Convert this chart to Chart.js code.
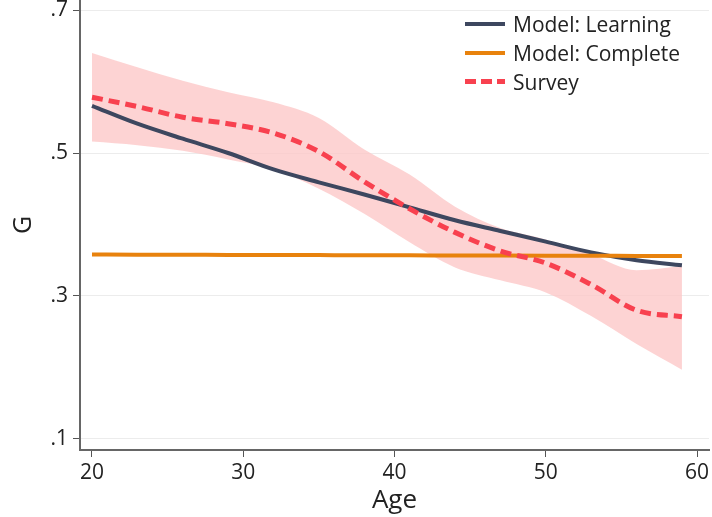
<!DOCTYPE html>
<html>
<head>
<meta charset="utf-8">
<script src="https://cdn.jsdelivr.net/npm/chart.js@4/dist/chart.umd.min.js"></script>
<style>
  html, body { margin: 0; padding: 0; background: #fff; }
  #wrap { position: relative; width: 712px; height: 517px; }
  #legend {
    position: absolute; left: 465px; top: 9px;
    font-family: 'Open Sans', sans-serif; font-size: 21px; color: #222;
  }
  .item { height: 29px; display: flex; align-items: center; }
  .swatch { width: 40px; height: 4px; margin-right: 8px; }
  .dash {
    background: repeating-linear-gradient(90deg, #f8414f 0 11px, transparent 11px 16px);
    height: 5px;
  }
</style>
</head>
<body>
<div id="wrap">
  <canvas id="chart" width="712" height="517"></canvas>
  <div id="legend">
    <div class="item"><span class="swatch" style="background:#3d475f"></span>Model: Learning</div>
    <div class="item"><span class="swatch" style="background:#e8820d"></span>Model: Complete</div>
    <div class="item"><span class="swatch dash"></span>Survey</div>
  </div>
</div>
<script>
'use strict';

const ages = [20, 23, 26, 29, 32, 35, 38, 41, 44, 47, 50, 53, 56, 59];
const learning = [0.566, 0.541, 0.520, 0.500, 0.477, 0.459, 0.442, 0.424, 0.406, 0.391, 0.376, 0.361, 0.350, 0.343];
const complete = [0.3580, 0.3578, 0.3577, 0.3575, 0.3574, 0.3572, 0.3570, 0.3569, 0.3567, 0.3566, 0.3564, 0.3562, 0.3561, 0.3560];
const survey = [0.578, 0.565, 0.550, 0.541, 0.528, 0.502, 0.460, 0.422, 0.389, 0.363, 0.346, 0.316, 0.280, 0.271];
const surveyUpper = [0.640, 0.620, 0.601, 0.585, 0.571, 0.549, 0.505, 0.470, 0.425, 0.395, 0.379, 0.358, 0.336, 0.342];
const surveyLower = [0.516, 0.511, 0.503, 0.491, 0.477, 0.450, 0.415, 0.375, 0.340, 0.322, 0.305, 0.272, 0.233, 0.197];

const xTicks = [20, 30, 40, 50, 60];
const yTicks = [0.1, 0.3, 0.5, 0.7];

function pts(values) {
  return values.map(function (v, i) { return { x: ages[i], y: v }; });
}

// drop the extra room chart.js keeps for the end labels
function noEdgePadding(scale) {
  scale.paddingTop = 0;
  scale.paddingBottom = 0;
  scale.paddingLeft = 0;
  scale.paddingRight = 0;
}

const font = { family: "'Open Sans', sans-serif", size: 21 };

new Chart(document.getElementById('chart'), {
  type: 'line',
  data: {
    datasets: [
      {
        label: 'Survey',
        data: pts(survey),
        borderColor: '#f8414f',
        borderWidth: 5,
        borderDash: [11, 6],
        order: 1,
      },
      {
        label: 'Model: Complete',
        data: pts(complete),
        borderColor: '#e8820d',
        borderWidth: 4,
        order: 2,
      },
      {
        label: 'Model: Learning',
        data: pts(learning),
        borderColor: '#3d475f',
        borderWidth: 4,
        order: 3,
      },
      {
        label: 'upper',
        data: pts(surveyUpper),
        borderWidth: 0,
        borderColor: 'transparent',
        order: 4,
      },
      {
        label: 'lower',
        data: pts(surveyLower),
        borderWidth: 0,
        borderColor: 'transparent',
        backgroundColor: 'rgba(252, 198, 198, 0.78)',
        fill: '-1',
        order: 5,
      },
    ],
  },
  options: {
    responsive: false,
    animation: false,
    layout: { padding: { left: 0, right: 3, top: 0, bottom: 0 } },
    elements: {
      point: { radius: 0 },
      line: { cubicInterpolationMode: 'monotone' },
    },
    plugins: {
      legend: { display: false },
      tooltip: { enabled: false },
      filler: { drawTime: 'beforeDatasetsDraw' },
    },
    scales: {
      x: {
        type: 'linear',
        min: 19.207,
        max: 60.79,
        afterBuildTicks: function (scale) {
          scale.ticks = xTicks.map(function (v) { return { value: v }; });
        },
        afterFit: function (scale) {
          scale.height = 67;
          noEdgePadding(scale);
        },
        border: { color: '#666', width: 2 },
        grid: { drawOnChartArea: false, tickColor: '#555', tickLength: 7 },
        ticks: { color: '#222', font: font, padding: 3, maxRotation: 0 },
        title: {
          display: true,
          text: 'Age',
          color: '#222',
          font: { family: "'Open Sans', sans-serif", size: 26 },
          padding: { top: 0, bottom: 1 },
        },
      },
      y: {
        min: 0.0846,
        max: 0.714,
        afterBuildTicks: function (scale) {
          scale.ticks = yTicks.map(function (v) { return { value: v }; });
        },
        afterFit: function (scale) {
          scale.width = 80;
          noEdgePadding(scale);
        },
        border: { color: '#666', width: 2 },
        grid: { color: '#ececec', lineWidth: 1, tickColor: '#555', tickLength: 7 },
        ticks: {
          color: '#222',
          font: font,
          padding: 5,
          callback: function (v) { return v.toFixed(1).replace(/^0/, ''); },
        },
        title: {
          display: true,
          text: 'G',
          color: '#222',
          font: { family: "'Open Sans', sans-serif", size: 25 },
          padding: { top: 9, bottom: 0 },
        },
      },
    },
  },
});
</script>
</body>
</html>
